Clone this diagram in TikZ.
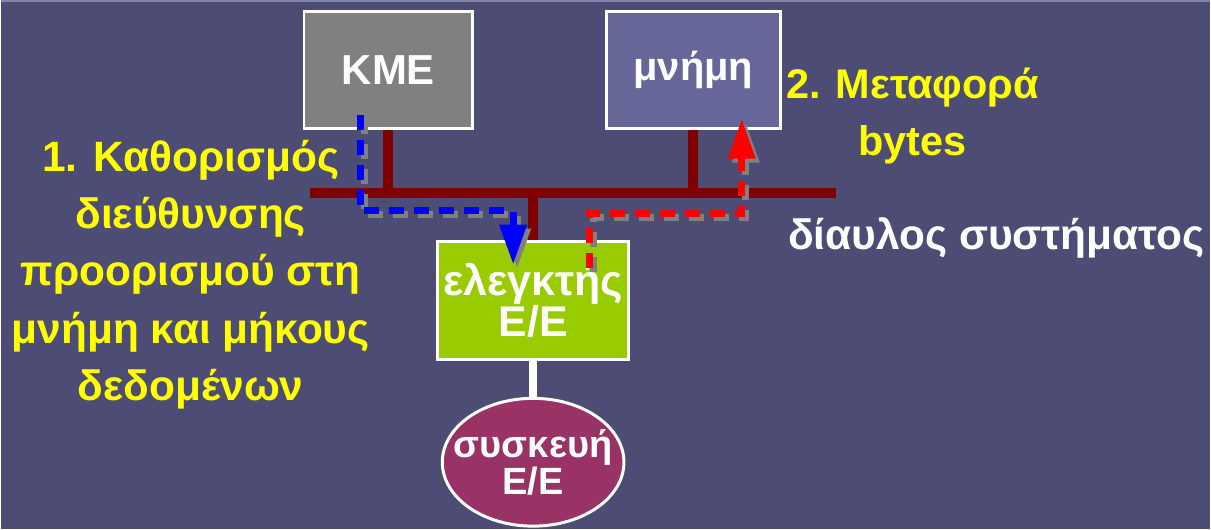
\documentclass[tikz,border=0pt]{standalone}
\usepackage{fontspec}
\setmainfont{Liberation Sans}
\usetikzlibrary{arrows.meta,shapes.geometric}
\definecolor{slidebg}{RGB}{76,76,116}
\definecolor{busred}{RGB}{128,0,0}
\definecolor{cpugray}{RGB}{128,128,128}
\definecolor{memblue}{RGB}{102,102,153}
\definecolor{ctrlgreen}{RGB}{153,204,0}
\definecolor{devred}{RGB}{153,51,102}
\definecolor{noteyellow}{RGB}{255,255,0}
\begin{document}
\begin{tikzpicture}[x=1pt, y=-1pt,
    box/.style={draw=white, line width=3pt, inner sep=0pt, text=white, align=center,
                font=\fontsize{43}{33}\selectfont\bfseries},
    bus/.style={draw=busred, line width=10pt},
    note/.style={text=noteyellow, align=center, font=\fontsize{42.5}{57.5}\selectfont\bfseries},
    flow/.style={dash pattern=on 15pt off 10pt, line width=7pt, -{Triangle[length=40pt,width=26pt]}},
    shadow/.style={draw=cpugray, transform canvas={shift={(4pt,-4pt)}}}]
    \fill[slidebg] (0,0) rectangle (1211,530);
    \draw[memblue!80!white, line width=2pt] (0,1) -- (1211,1);
    \useasboundingbox (0,0) rectangle (1211,530);
    % units
    \node[box, fill=cpugray, minimum width=169pt, minimum height=117pt,
          font=\fontsize{42}{42}\selectfont\bfseries] (kme) at (388,70) {KME};
    \node[box, fill=memblue, minimum width=174pt, minimum height=117pt,
          font=\fontsize{40}{40}\selectfont\bfseries] (mem) at (693.5,70) {μνήμη};
    \node[box, fill=ctrlgreen, minimum width=191pt, minimum height=119pt] (ctrl) at (533,301) {ελεγκτής\\Ε/Ε};
    \node[box, ellipse, fill=devred, inner xsep=-15pt, minimum width=176pt, minimum height=128pt,
          font=\fontsize{38}{33}\selectfont\bfseries] (dev) at (533,463) {συσκευή\\Ε/Ε};
    % system bus
    \coordinate (busL) at (310,193);
    \coordinate (busR) at (836,193);
    \draw[bus] (busL) -- (busR);
    \draw[bus] (kme.south) -- (kme.south |- busL);
    \draw[bus] (mem.south) -- (mem.south |- busL);
    \draw[bus] (ctrl.north) -- (ctrl.north |- busL);
    \draw[white, line width=8pt] (ctrl.south) -- (dev.north);
    % transfers
    \coordinate (b0) at (360,115);
    \coordinate (b1) at (513,265);
    \coordinate (r0) at (589,268);
    \coordinate (r1) at (742,119);
    \draw[flow, shadow] (b0) -- ++(0,96) -| (b1);
    \draw[flow, blue] (b0) -- ++(0,96) -| (b1);
    \draw[flow, shadow] (r0) -- ++(0,-54) -| (r1);
    \draw[flow, red] (r0) -- ++(0,-54) -| (r1);
    % labels
    \node[note] (step1) at (190,275) {1. Καθορισμός\\διεύθυνσης\\προορισμού στη\\μνήμη και μήκους\\δεδομένων};
    \node[note, font=\fontsize{41.5}{57}\selectfont\bfseries] (step2) at (913,116) {2. Μεταφορά\\bytes};
    \node[note, text=white] (busname) at (997,238) {δίαυλος συστήματος};
\end{tikzpicture}
\end{document}
